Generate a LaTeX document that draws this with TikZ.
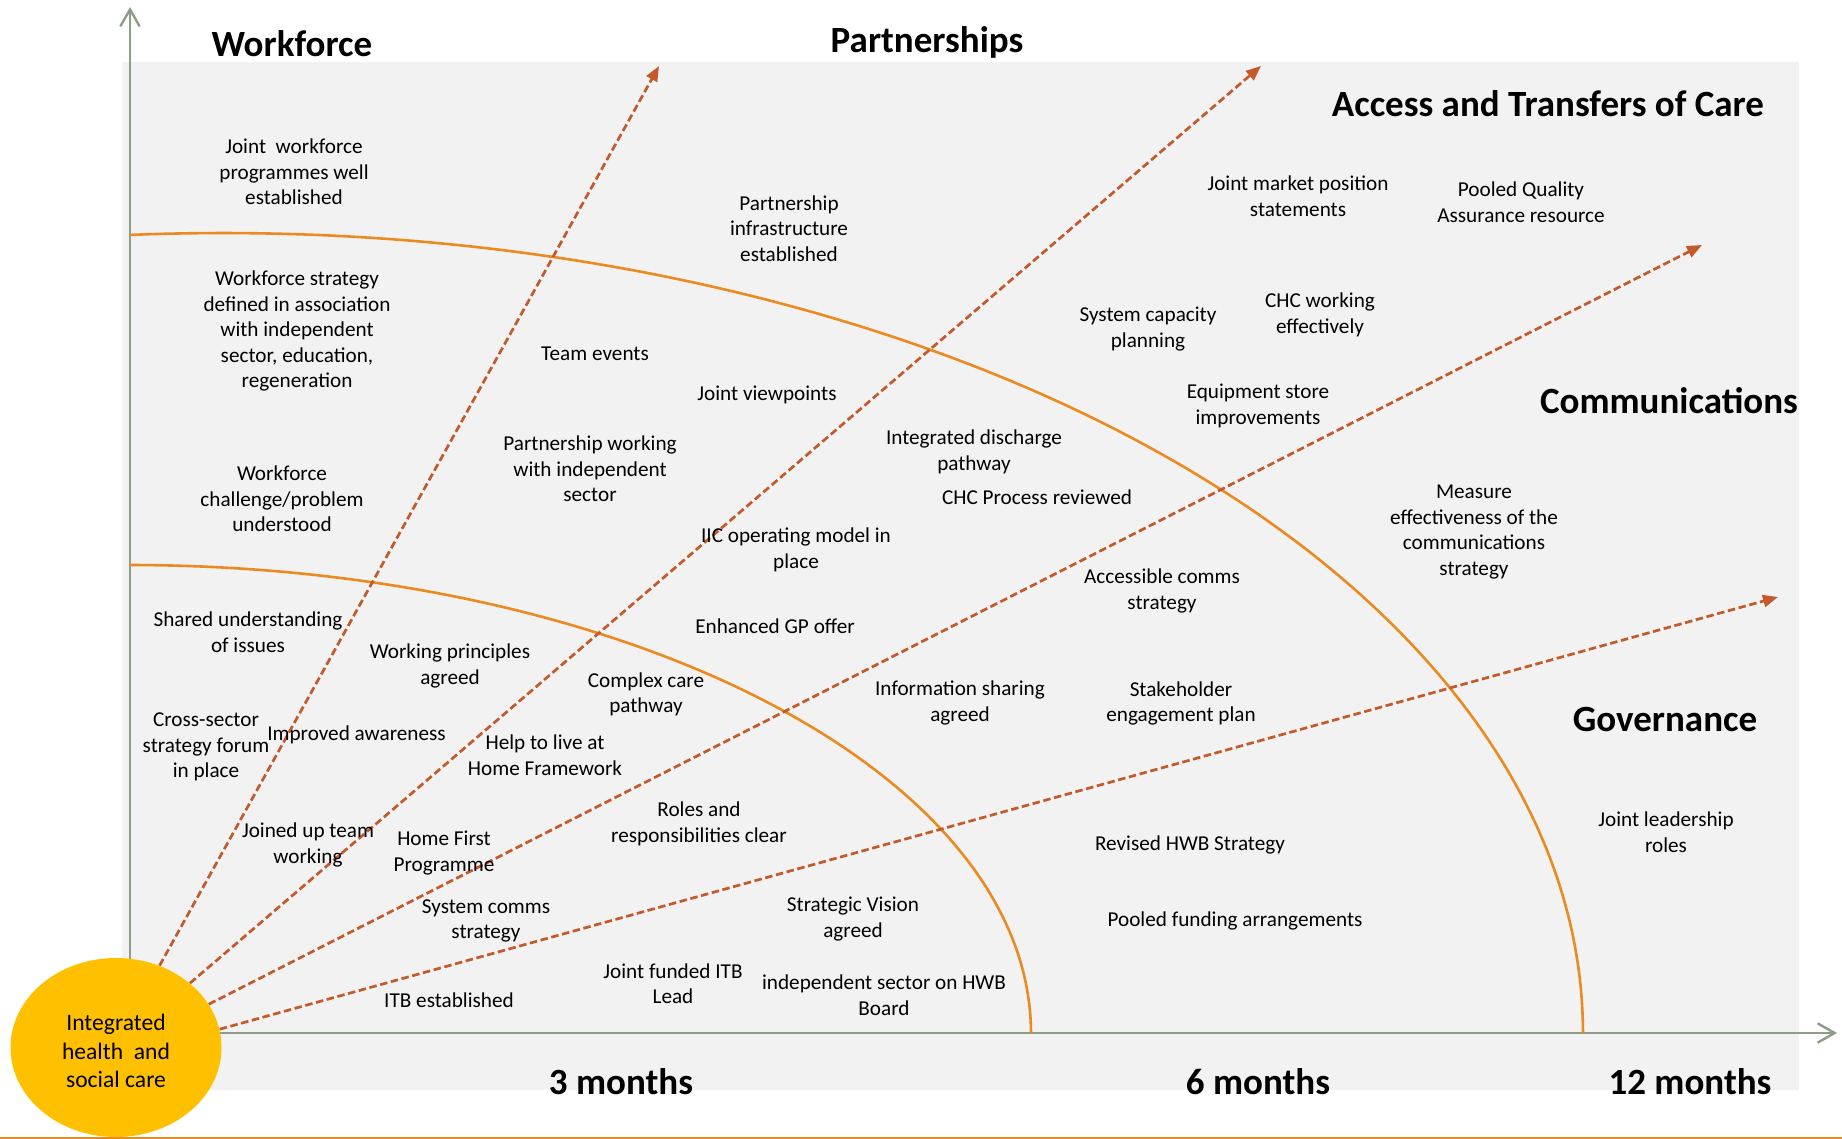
\documentclass[tikz,border=0pt]{standalone}
\usepackage{fontspec}
\setmainfont{Carlito}
\usetikzlibrary{arrows.meta,shapes.geometric}
\definecolor{bgray}{RGB}{242,242,242}
\definecolor{axisc}{RGB}{143,157,134}
\definecolor{arcc}{RGB}{234,138,32}
\definecolor{arrc}{RGB}{196,89,44}
\definecolor{ellc}{RGB}{255,192,0}
\begin{document}
\begin{tikzpicture}[x=0.5pt,y=-0.5pt,
  lbl/.style={font=\fontsize{10.6}{12.75}\selectfont, align=center, inner sep=0pt, yshift=-1pt},
  ttl/.style={font=\fontsize{18.5}{22}\selectfont\bfseries, anchor=base, inner sep=0pt},
  axisline/.style={draw=axisc, line width=1.2pt, -{Straight Barb[length=8.5pt,width=9.7pt,line width=1.2pt]}},
  arcline/.style={draw=arcc, line width=1.3pt},
  dasharrow/.style={draw=arrc, line width=1.35pt, dash pattern=on 3.75pt off 1.8pt, -{Triangle[length=7.5pt,width=6pt]}},
  hub/.style={ellipse, fill=ellc, minimum width=105.5pt, minimum height=89.5pt, inner sep=0pt},
  hubtxt/.style={align=center, inner sep=0pt, font=\fontsize{11.8}{14.2}\selectfont}
]
\useasboundingbox (0,0) rectangle (1842,1139);
% background panel
\fill[bgray] (122,62) rectangle (1799,1090);
% axes
\coordinate (O) at (130,1033);
\coordinate (ytip) at (130,7);
\coordinate (xtip) at (1837,1033);
\draw[axisline] (O) -- (ytip);
\draw[axisline] (O) -- (xtip);
% time arcs
\draw[arcline] plot[domain=93.9:0, samples=120, variable=\t] ({223+1360*cos(\t)},{1033-800*sin(\t)});
\draw[arcline] plot[domain=90:0, samples=100, variable=\t] ({130+901*cos(\t)},{1033-468*sin(\t)});
% hub
\node[hub] (hub) at (116,1047.5) {};
\node[hubtxt] (hubt) at (116,1051) {Integrated\\health\ \ and\\social care};
% theme arrows
\coordinate (t1) at (659,66);
\coordinate (t2) at (1261,66);
\coordinate (t3) at (1702,245);
\coordinate (t4) at (1778,597);
\draw[dasharrow] (hub.62) -- (t1);
\draw[dasharrow] (hub.41) -- (t2);
\draw[dasharrow] (hub.25) -- (t3);
\draw[dasharrow] (hub.10) -- (t4);
% titles
\node[ttl] (tw) at (292,56.5) {Workforce};
\node[ttl] (tp) at (927,53) {Partnerships};
\node[ttl] (ta) at (1548,117) {Access and Transfers of Care};
\node[ttl] (tc) at (1669,413) {Communications};
\node[ttl] (tg) at (1665,731.5) {Governance};
\node[ttl] (m3) at (621,1094) {3 months};
\node[ttl] (m6) at (1258,1094) {6 months};
\node[ttl] (m12) at (1690,1094) {12 months};
% labels
\node[lbl] (l1) at (294,170) {Joint\ \ workforce\\programmes well\\established};
\node[lbl] (l2) at (789,226.5) {Partnership\\infrastructure\\established};
\node[lbl] (l3) at (297,329) {Workforce strategy\\defined in association\\with independent\\sector, education,\\regeneration};
\node[lbl] (l4) at (595,352) {Team events};
\node[lbl] (l5) at (767,393) {Joint viewpoints};
\node[lbl] (l6) at (590,467) {Partnership working\\with independent\\sector};
\node[lbl] (l7) at (282,497) {Workforce\\challenge/problem\\understood};
\node[lbl] (l8) at (796,548) {IIC operating model in\\place};
\node[lbl] (l9) at (1298,194) {Joint market position\\statements};
\node[lbl] (l10) at (1521,200) {Pooled Quality\\Assurance resource};
\node[lbl] (l11) at (1148,327) {System capacity\\planning};
\node[lbl] (l12) at (1320,313) {CHC working\\effectively};
\node[lbl] (l13) at (1258,404) {Equipment store\\improvements};
\node[lbl] (l14) at (974,450) {Integrated discharge\\pathway};
\node[lbl] (l15) at (1037,495) {CHC Process reviewed};
\node[lbl] (l16) at (1474,530) {Measure\\effectiveness of the\\communications\\strategy};
\node[lbl] (l17) at (248,630) {Shared understanding\\of issues};
\node[lbl] (l18) at (450,664) {Working principles\\agreed};
\node[lbl] (l19) at (775,624.5) {Enhanced GP offer};
\node[lbl] (l20) at (646,692.5) {Complex care\\pathway};
\node[lbl] (l21) at (206,745) {Cross-sector\\strategy forum\\in place};
\node[lbl] (l22) at (356.5,732.5) {Improved awareness};
\node[lbl] (l23) at (545,753) {Help to live at\\Home Framework};
\node[lbl] (l24) at (699,822) {Roles and\\responsibilities clear};
\node[lbl] (l25) at (308,843) {Joined up team\\working};
\node[lbl] (l26) at (444,851) {Home First\\Programme};
\node[lbl] (l27) at (486,919) {System comms\\strategy};
\node[lbl] (l28) at (853,917) {Strategic Vision\\agreed};
\node[lbl] (l29) at (673,981.5) {Joint funded ITB\\Lead};
\node[lbl] (l30) at (449,998) {ITB established};
\node[lbl] (l31) at (884,993) {independent sector on HWB\\Board};
\node[lbl] (l32) at (1162,589) {Accessible comms\\strategy};
\node[lbl] (l33) at (960,701) {Information sharing\\agreed};
\node[lbl] (l34) at (1181,701.6) {Stakeholder\\engagement plan};
\node[lbl] (l35) at (1666,830) {Joint leadership\\roles};
\node[lbl] (l36) at (1190,843) {Revised HWB Strategy};
\node[lbl] (l37) at (1235,919) {Pooled funding arrangements};
% bottom rule
\draw[arcc, line width=1pt] (0,1137.5) -- (1842,1137.5);
\end{tikzpicture}
\end{document}
